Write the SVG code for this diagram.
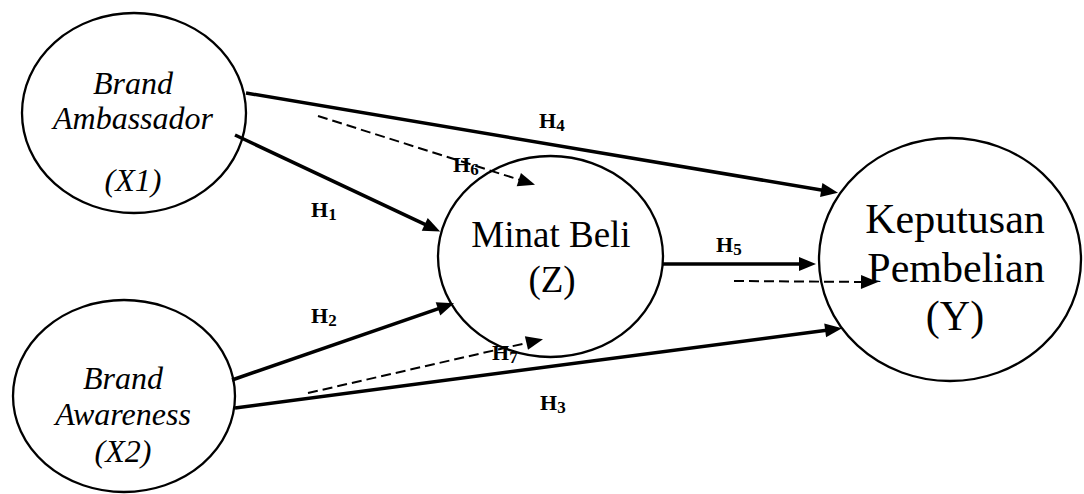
<svg xmlns="http://www.w3.org/2000/svg" width="1084" height="494" viewBox="0 0 1084 494">
<style>
.node{fill:#fff;stroke:#000;stroke-width:2.3}
.t{font-family:"Liberation Serif","Times New Roman",serif;fill:#000;text-anchor:middle}
.it{font-style:italic;font-size:32px}
.solid{fill:none;stroke:#000;stroke-width:3.5}
.dash{fill:none;stroke:#000;stroke-width:2;stroke-dasharray:10 5}
.lbl{font-family:"Liberation Serif","Times New Roman",serif;font-weight:bold;font-size:22px;fill:#000}
.sub{font-size:17px}
</style>
<defs>
<marker id="arr" markerUnits="userSpaceOnUse" markerWidth="17" markerHeight="14" refX="9" refY="7" orient="auto" overflow="visible">
<path d="M0,0 L17,7 L0,14 z" fill="#000" stroke="none"/>
</marker>
</defs>
<rect width="1084" height="494" fill="#fff"/>
<g id="node-x1">
<ellipse class="node" cx="134" cy="113" rx="112" ry="100"/>
<text class="t it" x="133" y="94">Brand</text>
<text class="t it" x="133" y="129">Ambassador</text>
<text class="t it" x="133" y="191">(X1)</text>
</g>
<g id="node-x2">
<ellipse class="node" cx="124" cy="396" rx="111" ry="96"/>
<text class="t it" x="123" y="389">Brand</text>
<text class="t it" x="123" y="425">Awareness</text>
<text class="t it" x="123" y="462">(X2)</text>
</g>
<g id="node-z">
<ellipse class="node" cx="550.5" cy="256.5" rx="112.5" ry="100.5"/>
<text class="t" x="551" y="247" font-size="37">Minat Beli</text>
<text class="t" x="552" y="292" font-size="37">(Z)</text>
</g>
<g id="node-y">
<ellipse class="node" cx="950" cy="259.5" rx="131" ry="121.5"/>
<text class="t" x="955" y="233" font-size="42">Keputusan</text>
<text class="t" x="956" y="282" font-size="42">Pembelian</text>
<text class="t" x="955" y="330" font-size="42">(Y)</text>
</g>
<g id="connectors">
<line class="solid" x1="246" y1="93" x2="830.1" y2="191.5" marker-end="url(#arr)"/>
<line class="solid" x1="235" y1="135" x2="432.9" y2="228.2" marker-end="url(#arr)"/>
<line class="dash" x1="318" y1="116" x2="527.4" y2="182.3" marker-end="url(#arr)"/>
<line class="solid" x1="232" y1="380" x2="446.5" y2="305.9" marker-end="url(#arr)"/>
<line class="solid" x1="235" y1="408" x2="834.1" y2="329.2" marker-end="url(#arr)"/>
<line class="dash" x1="308" y1="393" x2="535.2" y2="341" marker-end="url(#arr)"/>
<line class="solid" x1="663" y1="264" x2="808" y2="264" marker-end="url(#arr)"/>
<line class="dash" x1="734" y1="281" x2="870" y2="282" marker-end="url(#arr)"/>
</g>
<g id="labels">
<text class="lbl" x="311" y="217">H<tspan class="sub" dy="3">1</tspan></text>
<text class="lbl" x="311" y="323">H<tspan class="sub" dy="3">2</tspan></text>
<text class="lbl" x="540" y="410">H<tspan class="sub" dy="3">3</tspan></text>
<text class="lbl" x="539" y="128">H<tspan class="sub" dy="3">4</tspan></text>
<text class="lbl" x="716" y="252">H<tspan class="sub" dy="3">5</tspan></text>
<text class="lbl" x="453" y="172">H<tspan class="sub" dy="3">6</tspan></text>
<text class="lbl" x="492" y="360">H<tspan class="sub" dy="3">7</tspan></text>
</g>
</svg>
